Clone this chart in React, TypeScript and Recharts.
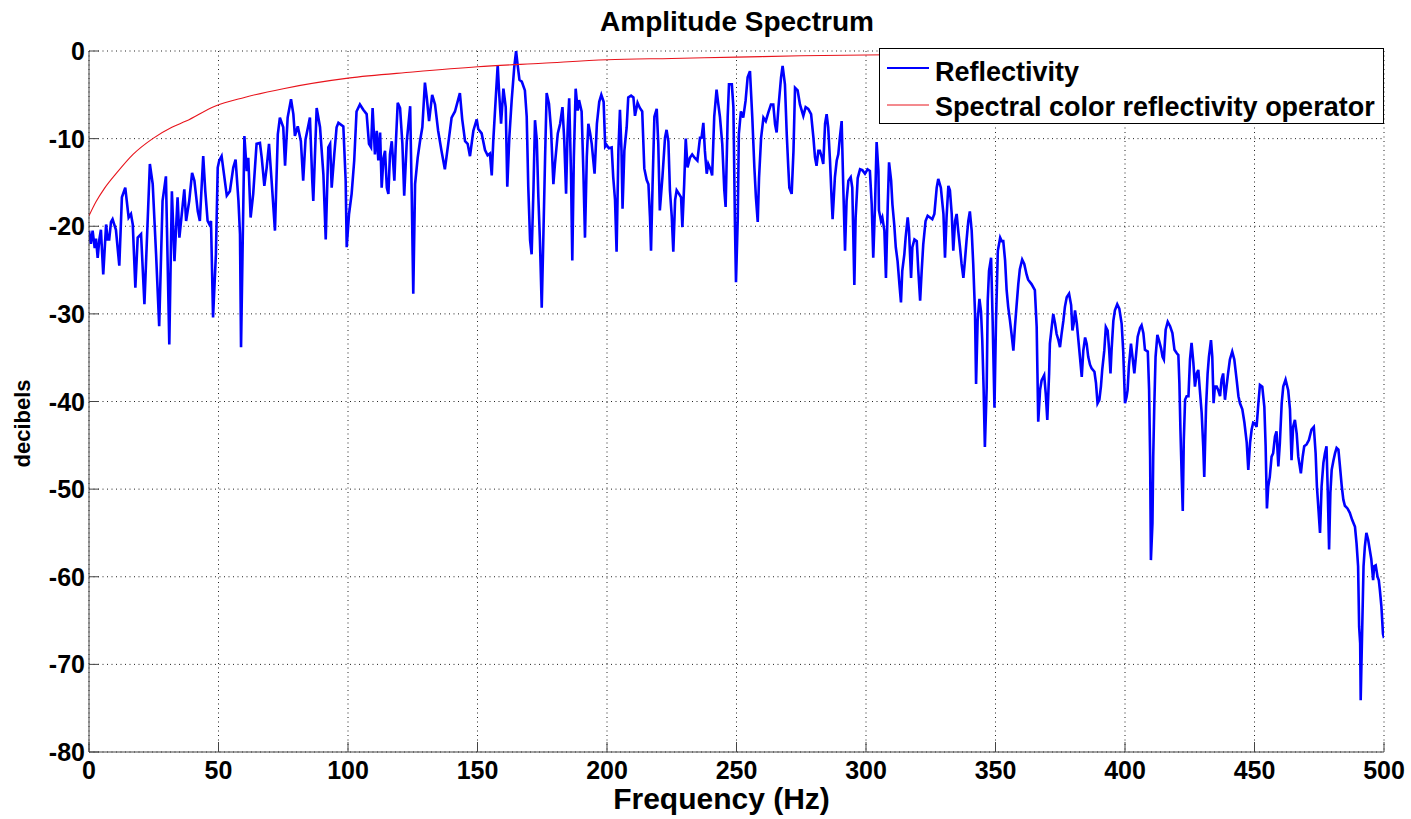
import React from 'react';
import { LineChart, Line, XAxis, YAxis, CartesianGrid, Legend, Label } from 'recharts';

const FONT = '"Liberation Sans", Arial, Helvetica, sans-serif';
const AXIS = '#444444';

const titleText = 'Amplitude Spectrum';
const xLabelText = 'Frequency (Hz)';
const yLabelText = 'decibels';
const reflectivityName = 'Reflectivity';
const operatorName = 'Spectral color reflectivity operator';

const xTicks = [0, 50, 100, 150, 200, 250, 300, 350, 400, 450, 500];
const yTicks = [-80, -70, -60, -50, -40, -30, -20, -10, 0];

const reflectivityHz = [
  0, 0.7, 1.4, 2.2, 2.7, 3.35, 4.0, 4.6, 5.5, 6.6, 7.2, 7.8, 8.5, 9.1, 10.4, 11.7, 12.7, 14.0, 15.3, 16.2,
  16.9, 17.9, 18.8, 20.1, 21.4, 22.0, 23.5, 24.6, 25.9, 27.1, 28.4, 29.7, 31.0, 32.0, 33.0, 34.2, 34.9, 36.2, 36.8, 37.5,
  38.7, 39.8, 40.7, 42.0, 42.8, 44.1, 44.9, 45.8, 46.5, 47.1, 47.9, 49.0, 49.7, 50.3,
  51.2, 53.2, 54.4, 55.7, 56.6, 57.7, 58.3, 58.7, 60.0, 60.9, 61.5, 62.4, 63.4, 64.7, 66.0, 66.7, 67.7, 68.6, 69.5, 70.5,
  71.8, 72.9, 73.7, 75.0, 75.7, 76.7, 78.0, 78.9, 79.5, 80.6, 81.8, 82.7, 83.6, 85.3, 86.2, 86.6, 87.9, 89.2, 90.5, 91.4,
  92.4, 93.1, 93.7, 94.7, 95.6, 96.3, 98.2, 99.1, 99.5,
  100.4, 101.4, 102.4, 103.3, 104.6, 105.9, 107.2, 108.1, 108.9, 109.5, 110.4, 111.1, 111.7, 112.4, 113.0, 113.7, 114.3,
  115.0, 115.6, 116.2, 116.9, 117.9, 118.4, 119.2, 120.1, 121.0, 121.7, 122.7, 124.0, 124.6, 125.2, 125.9, 126.9, 127.8,
  128.7, 129.7, 130.4, 131.3, 132.5, 133.6, 134.8, 136.1, 137.4, 138.7, 140.0, 141.3, 143.2, 144.1, 145.2, 146.2, 147.1,
  148.4, 149.7, 150.3, 151.6, 152.9, 153.9, 154.8, 155.5, 156.1, 157.0, 157.8, 158.3, 159.1, 160.0, 160.9, 161.5, 162.3,
  163.2, 164.2, 164.9, 165.5, 166.2, 167.1, 168.3, 169.0, 169.6, 170.3, 170.9, 171.6, 172.2, 172.9, 173.5, 174.1, 174.8,
  175.4, 176.1, 176.7, 177.6, 178.4, 179.3, 179.9, 181.0, 181.9, 182.8, 183.5, 184.2, 184.8, 185.4, 186.1, 186.6, 187.2,
  187.9, 188.7, 189.2, 190.2, 190.9, 191.5, 192.2, 192.8, 193.5, 194.1, 195.2, 196.1, 197.0, 197.8, 198.7, 199.3, 199.8,
  200.7, 201.8, 202.4, 203.1, 203.7, 204.4, 205.0, 205.6, 206.0, 206.7, 207.6, 208.2, 209.3, 210.2, 210.8, 211.8, 212.7,
  213.6, 214.4, 215.3, 216.0, 216.6, 217.0, 217.6, 218.3, 219.2, 219.8, 220.4, 221.4, 222.4, 223.0, 223.7, 224.3, 225.0,
  225.6, 226.3, 226.9, 227.8, 228.6, 229.1, 229.8, 230.4, 231.1, 232.0, 232.9, 233.9, 234.9, 235.9, 236.5, 237.2, 237.8,
  238.5, 239.1, 240.1, 240.6, 241.4, 242.3, 242.9, 243.6, 244.5, 245.3, 245.8, 246.6, 247.1, 248.2, 248.8, 249.4, 249.8,
  250.5, 250.9, 251.7, 252.6, 253.5, 254.3, 255.2, 256.1, 256.9, 257.5, 258.2, 258.7, 259.5, 260.4, 261.3, 262.3, 263.3,
  264.2, 264.9, 265.5, 266.2, 267.2, 267.8, 268.7, 269.4, 270.0, 270.4, 271.3, 272.0, 272.6, 273.6, 274.5, 275.8, 276.7,
  277.7, 278.8, 279.7, 280.3, 280.9, 281.6, 282.2, 282.9, 283.5, 284.2, 284.8, 285.4, 286.1, 286.7, 287.1, 288.0, 288.7,
  289.3, 289.9, 290.6, 291.2, 291.9, 292.5, 293.2, 294.1, 294.7, 295.5, 296.0, 296.8, 297.7, 298.6, 299.6, 300.6, 301.5,
  302.2, 302.8, 303.5, 304.1, 304.8, 305.0, 305.8, 306.3, 307.1, 307.7, 308.4, 308.9, 309.7, 310.2, 310.9, 311.5, 312.2,
  312.9, 313.5, 314.0, 314.8, 315.3, 316.1, 316.6, 317.4, 317.9, 318.7, 319.6, 320.2, 320.9, 321.5, 322.1, 323.0, 323.8,
  324.7, 325.6, 326.4, 327.3, 327.9, 328.9, 329.9, 330.5, 331.1, 331.8, 332.4, 333.1, 333.7, 334.4, 335.0, 335.6, 336.3,
  336.9, 337.6, 338.2, 338.8, 339.5, 340.1, 340.8, 341.4, 342.1, 342.5, 343.1, 343.8, 344.4, 344.9, 345.4, 345.9, 346.6,
  347.0, 347.5, 348.3, 348.9, 349.6, 350.2, 350.9, 351.8, 352.4, 353.0, 353.7, 354.3, 354.9, 355.6, 356.2, 356.9, 357.5,
  358.1, 358.8, 359.4, 360.3, 361.1, 362.0, 362.6, 363.9, 365.2, 365.9, 366.2, 366.5, 367.2, 367.8, 368.8, 369.4, 370.0,
  370.7, 371.0, 371.7, 372.3, 373.0, 373.6, 374.3, 374.9, 375.5, 376.2, 376.8, 377.5, 378.4, 379.2, 379.7, 380.2, 380.7,
  381.4, 382.0, 382.6, 383.3, 383.9, 384.6, 385.2, 385.8, 386.5, 387.1, 388.2, 388.8, 389.4, 390.1, 390.7, 391.2, 392.0,
  392.6, 393.3, 393.9, 394.4, 394.8, 395.5, 396.1, 397.0, 397.8, 398.7, 399.3, 400.0, 400.6, 401.0, 401.5, 402.3, 402.9,
  403.6, 404.2, 404.9, 405.8, 406.4, 407.1, 407.7, 408.8, 409.3, 409.7, 410.0, 410.6, 410.9, 411.3, 411.8, 412.5, 413.1,
  413.9, 414.5, 415.0, 415.7, 416.5, 417.4, 418.3, 419.1, 420.0, 420.6, 421.0, 421.4, 421.9, 422.3, 422.7, 423.2, 423.8,
  424.5, 425.1, 425.7, 426.4, 427.0, 427.7, 428.3, 428.9, 429.6, 430.2, 430.6, 431.3, 431.9, 432.4, 433.2, 433.7, 434.2,
  434.7, 435.4, 436.0, 436.7, 437.3, 437.9, 438.6, 439.2, 439.8, 440.5, 441.4, 442.2, 443.1, 443.8, 444.4, 445.3, 446.1,
  447.0, 447.6, 448.3, 448.9, 449.5, 450.2, 450.8, 451.5, 452.1, 453.0, 453.8, 454.3, 454.8, 455.3, 455.9, 456.6, 457.2,
  457.9, 458.5, 459.2, 459.8, 460.5, 461.1, 462.0, 463.0, 463.7, 464.3, 464.9, 465.6, 466.3, 466.9, 467.9, 468.6, 469.2,
  470.1, 471.0, 472.0, 472.9, 473.6, 474.1, 474.6, 475.3, 475.9, 476.6, 477.2, 477.8, 478.3, 478.8, 479.3, 479.8, 480.5,
  481.1, 481.7, 482.4, 483.0, 483.7, 484.3, 484.9, 485.9, 486.8, 487.7, 488.8, 489.4, 490.0, 490.4, 490.8, 491.0, 491.6,
  492.1, 492.6, 493.2, 493.9, 494.5, 495.1, 495.8, 496.2, 496.8, 497.5, 498.0, 498.4, 499.0, 499.6, 500.0,
];

const reflectivityDb = [
  -20.5, -22.0, -20.5, -22.5, -21.4, -23.6, -21.5, -20.4, -25.5, -19.8, -21.5, -21.5, -19.5, -19.2, -20.4, -24.5, -16.7, -15.6, -19.0, -18.6,
  -19.8, -27.0, -21.3, -20.9, -28.9, -24.3, -12.9, -15.2, -23.2, -31.4, -17.1, -14.3, -33.5, -16.0, -24.0, -16.7, -21.3, -17.5, -15.8, -19.4,
  -17.1, -13.9, -14.8, -18.3, -19.4, -12.0, -16.0, -19.4, -19.8, -19.4, -30.4, -23.2, -13.3, -12.5,
  -12.0, -16.5, -16.0, -13.3, -12.4, -17.1, -20.9, -33.8, -9.7, -13.7, -12.2, -19.0, -16.3, -10.6, -10.5, -12.2, -15.4, -13.3, -10.6, -14.8,
  -20.5, -9.5, -7.6, -8.7, -13.1, -7.6, -5.5, -7.2, -9.7, -8.6, -10.3, -14.8, -10.1, -7.6, -14.8, -17.1, -6.5, -8.7, -14.1, -21.5,
  -11.0, -10.6, -15.6, -11.8, -8.7, -8.2, -8.6, -14.8, -22.4,
  -18.6, -16.3, -12.5, -6.9, -6.1, -6.7, -7.2, -10.6, -11.0, -6.5, -11.8, -9.1, -12.5, -9.3, -15.6, -12.2, -11.4,
  -15.6, -16.3, -11.8, -10.3, -14.8, -11.0, -5.9, -6.5, -10.6, -16.5, -10.3, -6.3, -16.3, -27.7, -15.2, -12.2, -10.3,
  -8.7, -3.6, -5.3, -8.0, -5.0, -6.1, -9.1, -11.4, -13.5, -10.6, -7.6, -6.9, -4.8, -7.8, -10.3, -10.6, -12.0,
  -9.1, -7.8, -8.9, -9.4, -11.3, -11.9, -11.7, -14.2, -10.2, -5.6, -1.6, -4.5, -8.3, -4.3, -6.4, -15.5, -9.8,
  -5.6, -1.8, 0, -1.6, -3.3, -3.5, -4.5, -7.5, -15.5, -21.6, -23.2, -15.9, -7.9, -10.2, -16.7, -21.6, -29.3,
  -21.6, -12.1, -4.8, -6.0, -9.0, -15.2, -12.9, -9.4, -8.3, -6.4, -10.2, -16.3, -9.0, -5.4, -14.0, -23.9, -12.1,
  -4.3, -6.8, -5.6, -6.9, -14.0, -21.3, -12.1, -8.3, -9.4, -10.6, -14.0, -8.3, -5.8, -5.0, -5.8, -10.9, -10.7,
  -11.1, -11.0, -14.4, -17.0, -22.9, -11.4, -6.7, -11.4, -18.0, -11.4, -8.7, -5.3, -5.1, -5.3, -7.4, -5.9, -6.5,
  -6.9, -13.4, -14.7, -15.2, -19.0, -22.8, -15.2, -7.5, -6.6, -10.6, -18.2, -14.4, -9.9, -9.0, -10.3, -15.9, -18.9,
  -22.9, -17.0, -15.9, -16.3, -16.7, -20.1, -15.2, -10.0, -13.3, -12.2, -11.8, -12.2, -12.5, -9.9, -9.9, -8.2, -11.4,
  -14.0, -12.9, -13.6, -14.2, -7.5, -4.4, -5.9, -7.5, -10.6, -15.9, -17.8, -7.5, -3.8, -3.8, -6.4, -19.7, -26.4,
  -19.0, -9.5, -6.9, -7.6, -5.7, -3.0, -2.3, -7.6, -13.3, -16.7, -19.5, -14.5, -9.9, -7.6, -8.0, -7.0, -6.1,
  -6.1, -8.4, -9.3, -6.4, -3.0, -1.7, -3.8, -9.5, -13.3, -15.6, -16.3, -11.4, -4.2, -4.5, -6.1, -7.4, -6.4,
  -6.6, -7.2, -9.9, -12.1, -13.1, -11.4, -11.4, -12.1, -12.9, -8.3, -7.2, -8.7, -12.5, -16.7, -19.2, -14.4, -12.5,
  -11.8, -9.9, -8.0, -15.2, -22.8, -17.1, -14.8, -14.4, -15.6, -26.7, -19.0, -14.5, -13.5, -13.6, -14.0, -13.5, -13.7,
  -17.5, -23.6, -17.5, -10.4, -13.7, -18.2, -19.4, -19.0, -20.5, -25.9, -17.5, -12.7, -14.8, -17.5, -19.8, -22.4, -24.0,
  -26.6, -28.7, -25.1, -23.2, -21.3, -19.0, -20.5, -25.9, -22.4, -21.5, -21.7, -25.1, -28.5, -25.1, -22.1, -19.4, -18.8,
  -19.0, -19.2, -18.6, -15.6, -14.6, -15.6, -18.6, -23.6, -19.0, -15.4, -15.9, -18.6, -22.8, -19.4, -18.6, -20.5, -22.4,
  -24.3, -25.9, -23.9, -21.7, -19.4, -18.3, -20.5, -24.3, -30.0, -38.0, -30.8, -28.3, -29.7, -33.1, -38.4, -45.2, -38.4,
  -28.5, -25.1, -23.6, -30.8, -40.7, -30.8, -22.8, -21.3, -21.7, -21.7, -23.9, -27.3, -29.2, -30.8, -32.3, -34.2, -31.5,
  -29.2, -26.6, -24.9, -23.8, -24.3, -25.5, -26.1, -26.6, -27.3, -31.5, -36.8, -42.3, -38.7, -37.6, -37.0, -39.1, -42.1,
  -36.8, -33.4, -31.5, -30.0, -31.1, -32.3, -33.0, -33.8, -32.3, -30.8, -29.2, -28.1, -27.7, -29.0, -31.9, -31.1, -29.6,
  -31.1, -33.0, -34.9, -37.2, -34.2, -32.7, -33.4, -34.9, -35.8, -36.2, -36.6, -37.9, -40.2, -39.8, -38.3, -36.4, -34.2,
  -31.5, -31.9, -34.2, -36.8, -34.2, -30.8, -29.6, -28.9, -29.4, -31.1, -34.2, -40.2, -39.5, -38.7, -36.0, -33.4, -34.9,
  -36.8, -34.9, -32.6, -31.6, -31.3, -32.2, -34.1, -34.3, -38.6, -46.3, -58.1, -53.9, -46.3, -40.6, -34.9, -32.4, -33.0,
  -33.9, -34.9, -35.2, -31.8, -30.9, -31.4, -32.2, -34.1, -34.5, -34.7, -37.9, -43.2, -48.6, -52.5, -44.4, -39.8, -39.4,
  -39.4, -35.2, -33.3, -35.6, -38.3, -36.8, -36.4, -38.7, -41.3, -45.1, -48.6, -40.6, -36.8, -34.9, -33.0, -34.9, -40.2,
  -38.3, -38.3, -38.7, -39.4, -37.5, -36.8, -39.8, -38.3, -36.8, -35.2, -34.3, -35.2, -37.5, -39.4, -40.2, -40.9, -42.4,
  -44.7, -47.8, -44.7, -43.2, -42.4, -42.5, -42.9, -40.2, -38.1, -38.3, -40.6, -45.1, -52.2, -49.7, -48.6, -46.3, -45.9,
  -44.0, -43.4, -47.4, -44.7, -40.2, -38.3, -37.5, -38.7, -40.9, -46.7, -42.9, -42.1, -43.7, -46.3, -48.2, -46.3, -45.1,
  -44.9, -44.4, -43.2, -42.9, -45.9, -49.7, -51.9, -55.0, -49.7, -47.0, -45.9, -45.1, -50.4, -56.9, -50.4, -47.8, -46.7,
  -45.9, -45.3, -45.5, -47.4, -49.7, -51.2, -51.9, -52.2, -52.7, -53.5, -54.3, -56.2, -58.8, -65.7, -67.6, -74.1, -65.7,
  -58.8, -56.6, -55.0, -55.8, -56.9, -58.0, -60.4, -58.8, -58.7, -60.0, -60.4, -61.5, -63.4, -66.5, -67.0,
];

const operatorHz = [0, 2.7, 5.9, 11, 17, 24.6, 32, 37.5, 48.6, 60, 75, 100, 125, 150, 175, 200, 225, 250, 275, 300, 350, 400, 450, 500];
const operatorDb = [-18.8, -17.2, -15.7, -13.8, -11.8, -10, -8.7, -8, -6.3, -5.3, -4.3, -3.1, -2.4, -1.8, -1.4, -1.0, -0.85, -0.7, -0.55, -0.45, -0.3, -0.2, -0.1, 0];

const reflectivityData = reflectivityHz.map((f, i) => ({ f, db: reflectivityDb[i] }));
const operatorData = operatorHz.map((f, i) => ({ f, db: operatorDb[i] }));

const TICK_MARGIN = 8;
const TICK_LEN = 10;
const TICK_FONT = 25;

const BottomTick = (props: any) => {
  const { x, y, payload } = props;
  const axisY = y - TICK_MARGIN;
  return (
    <g>
      <line x1={x} x2={x} y1={axisY} y2={axisY - TICK_LEN} stroke={AXIS} strokeWidth={1} />
      <text x={x} y={axisY + 27} textAnchor="middle" fontFamily={FONT} fontWeight="bold" fontSize={TICK_FONT} fill="#000">
        {payload.value}
      </text>
    </g>
  );
};

const LeftTick = (props: any) => {
  const { x, y, payload } = props;
  const axisX = x + TICK_MARGIN;
  return (
    <g>
      <line x1={axisX} x2={axisX + TICK_LEN} y1={y} y2={y} stroke={AXIS} strokeWidth={1} />
      <text x={axisX - 4} y={y + 9} textAnchor="end" fontFamily={FONT} fontWeight="bold" fontSize={TICK_FONT} fill="#000">
        {payload.value}
      </text>
    </g>
  );
};

const TopTick = (props: any) => {
  const { x, y } = props;
  const axisY = y + TICK_MARGIN;
  return <line x1={x} x2={x} y1={axisY} y2={axisY + TICK_LEN} stroke={AXIS} strokeWidth={1} />;
};

const RightTick = (props: any) => {
  const { x, y } = props;
  const axisX = x - TICK_MARGIN;
  return <line x1={axisX} x2={axisX - TICK_LEN} y1={y} y2={y} stroke={AXIS} strokeWidth={1} />;
};

const XLabel = (props: any) => {
  const vb = props.viewBox;
  return (
    <text x={vb.x + vb.width / 2 - 15} y={vb.y + 57} textAnchor="middle" fontFamily={FONT} fontWeight="bold" fontSize={30} fill="#000">
      {xLabelText}
    </text>
  );
};

const YLabel = (props: any) => {
  const vb = props.viewBox;
  const cx = vb.x + 30;
  const cy = vb.y + vb.height / 2 + 22;
  return (
    <text x={cx} y={cy} transform={`rotate(-90, ${cx}, ${cy})`} textAnchor="middle" fontFamily={FONT} fontWeight="bold" fontSize={22} fill="#000">
      {yLabelText}
    </text>
  );
};

const LegendBox = (props: any) => {
  const items = props.payload || [];
  return (
    <div style={{ width: 505, height: 76, boxSizing: 'border-box', border: '1px solid #000', background: '#fff', position: 'relative' }}>
      <svg width={503} height={74} style={{ position: 'absolute', left: 0, top: 0 }}>
        {items.map((it: any, i: number) => (
          <g key={i}>
            <line x1={7} x2={49} y1={i === 0 ? 19 : 56} y2={i === 0 ? 19 : 56} stroke={it.color} strokeWidth={i === 0 ? 2 : 1} />
            <text x={55} y={i === 0 ? 32 : 67} fontFamily={FONT} fontWeight="bold" fontSize={27} fill="#000">
              {it.value}
            </text>
          </g>
        ))}
      </svg>
    </div>
  );
};

export default function App() {
  return (
    <div style={{ position: 'absolute', left: 0, top: 0, width: 1411, height: 819, background: '#fff' }}>
      <LineChart width={1411} height={819} margin={{ top: 51, right: 27, left: 0, bottom: 0 }}>
        <CartesianGrid stroke="#222" strokeDasharray="1 3.5" strokeWidth={1} />
        <XAxis
          dataKey="f"
          type="number"
          domain={[0, 500]}
          ticks={xTicks}
          height={67}
          interval={0}
          tickSize={0}
          tickMargin={TICK_MARGIN}
          tick={<BottomTick />}
          axisLine={{ stroke: AXIS, strokeWidth: 1 }}
          allowDataOverflow
        >
          <Label content={<XLabel />} />
        </XAxis>
        <XAxis
          xAxisId="top"
          orientation="top"
          dataKey="f"
          type="number"
          domain={[0, 500]}
          ticks={xTicks}
          height={0}
          interval={0}
          tickSize={0}
          tickMargin={TICK_MARGIN}
          tick={<TopTick />}
          axisLine={{ stroke: AXIS, strokeWidth: 1 }}
          allowDataOverflow
        />
        <YAxis
          type="number"
          domain={[-80, 0]}
          ticks={yTicks}
          width={89}
          interval={0}
          tickSize={0}
          tickMargin={TICK_MARGIN}
          tick={<LeftTick />}
          axisLine={{ stroke: AXIS, strokeWidth: 1 }}
          allowDataOverflow
        >
          <Label content={<YLabel />} />
        </YAxis>
        <YAxis
          yAxisId="right"
          orientation="right"
          type="number"
          domain={[-80, 0]}
          ticks={yTicks}
          width={0}
          interval={0}
          tickSize={0}
          tickMargin={TICK_MARGIN}
          tick={<RightTick />}
          axisLine={{ stroke: AXIS, strokeWidth: 1 }}
          allowDataOverflow
        />
        <Legend
          layout="vertical"
          align="center"
          verticalAlign="middle"
          content={<LegendBox />}
          wrapperStyle={{ left: 879, top: 48, width: 505, height: 76 }}
        />
        <Line
          data={reflectivityData}
          dataKey="db"
          name={reflectivityName}
          type="linear"
          stroke="#0000ff"
          strokeWidth={2.6}
          dot={false}
          activeDot={false}
          isAnimationActive={false}
        />
        <Line
          data={operatorData}
          dataKey="db"
          name={operatorName}
          type="monotone"
          stroke="#e8141c"
          strokeWidth={1.1}
          dot={false}
          activeDot={false}
          isAnimationActive={false}
        />
      </LineChart>
      <svg width={1411} height={44} style={{ position: 'absolute', left: 0, top: 0, pointerEvents: 'none' }}>
        <text x={737} y={31} textAnchor="middle" fontFamily={FONT} fontWeight="bold" fontSize={28} fill="#000">
          {titleText}
        </text>
      </svg>
    </div>
  );
}
